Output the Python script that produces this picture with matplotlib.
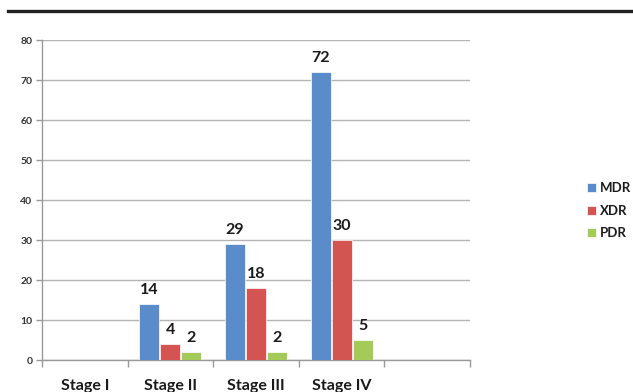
import matplotlib
matplotlib.use("Agg")
import matplotlib.pyplot as plt
import numpy as np
from matplotlib.lines import Line2D

plt.rcParams['font.family'] = ['Lato', 'DejaVu Sans']

# data
stages = ['Stage I', 'Stage II', 'Stage III', 'Stage IV', '']
mdr = [0, 14, 29, 72, 0]
xdr = [0, 4, 18, 30, 0]
pdr = [0, 2, 2, 5, 0]
series = ['MDR', 'XDR', 'PDR']
colors = ['#5a8ccc', '#d35450', '#a4cb5a']

fig = plt.figure(figsize=(6.33, 3.92), dpi=100)
ax = fig.add_axes([42/633, 1-360/392, (470-42)/633, 320/392])

x = np.arange(len(stages))
w = 0.235
step = 0.245
for i, (name, vals, c) in enumerate(zip(series, [mdr, xdr, pdr], colors)):
    pos = x + (i - 1) * step
    bars = ax.bar(pos, vals, width=w, color=c, edgecolor='white', linewidth=0.5,
                  label=name, zorder=3)
    for b, v in zip(bars, vals):
        if v > 0:
            ax.annotate(str(v), (b.get_x() + b.get_width()/2, v),
                        xytext=(0, 5), textcoords='offset points',
                        ha='center', va='bottom', fontsize=11.5,
                        fontweight='bold', color='#1a1a1a')

ax.set_xlim(-0.5, 4.5)
ax.set_ylim(0, 80)
ax.set_yticks(range(0, 81, 10))
ax.yaxis.grid(True, color='#b4b4b4', linewidth=1.0, zorder=0)
ax.set_axisbelow(True)

ax.set_xticks(x)
ax.set_xticklabels(stages, fontsize=11.5, fontweight='bold', color='#1a1a1a')
ax.set_xticks(np.arange(-0.5, 5.0, 1.0), minor=True)
ax.tick_params(axis='x', which='major', length=0, pad=14)
ax.tick_params(axis='x', which='minor', length=5, color='#999999', width=1)
ax.tick_params(axis='y', length=4, color='#999999', width=1, pad=3,
               labelsize=7.5, labelcolor='#333333')
for lab in ax.get_yticklabels():
    lab.set_fontweight('bold')

for s in ['top', 'right']:
    ax.spines[s].set_visible(False)
for s in ['left', 'bottom']:
    ax.spines[s].set_color('#999999')
    ax.spines[s].set_linewidth(1)

leg = fig.legend(loc='upper left', bbox_to_anchor=(578/633, 1-173/392),
                 frameon=False, handlelength=0.7, handleheight=0.7,
                 handletextpad=0.25, labelspacing=0.8, borderpad=0.2,
                 prop={'weight': 'bold', 'size': 9.5})
for t in leg.get_texts():
    t.set_color('#1a1a1a')

fig.add_artist(Line2D([8/633, 1], [1-11/392, 1-11/392], color='#222222',
                      linewidth=2.4, transform=fig.transFigure))

fig.savefig('out.png', dpi=100)
